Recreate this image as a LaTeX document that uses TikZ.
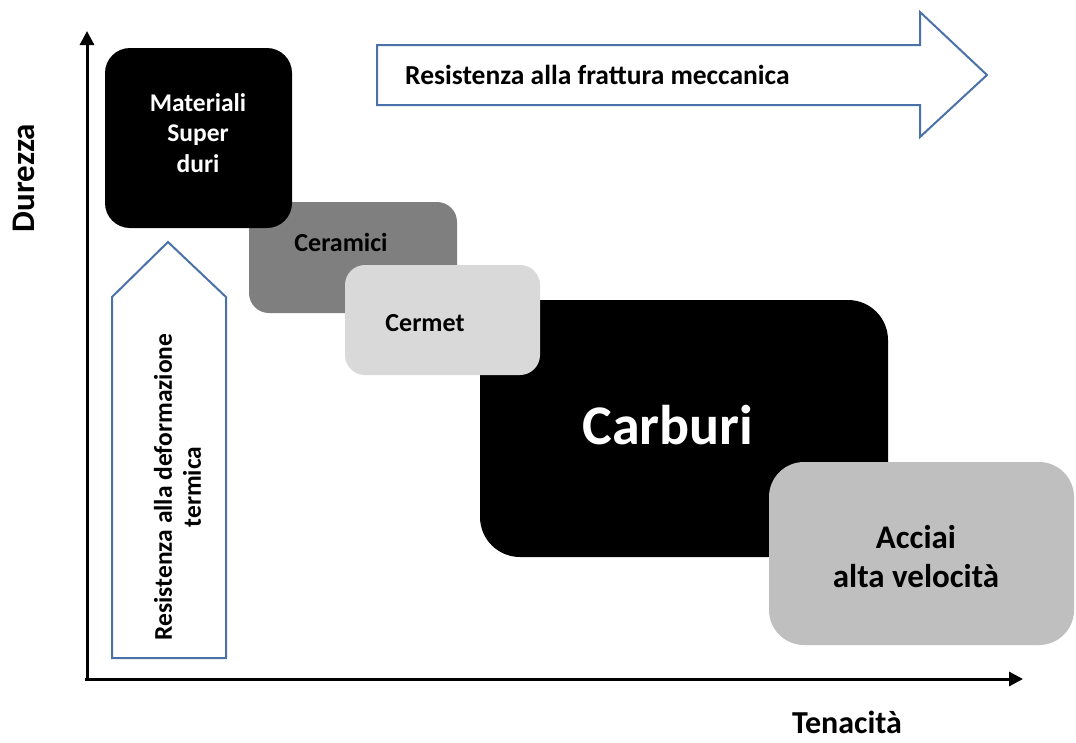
\documentclass[tikz,border=0pt]{standalone}
\usepackage{fontspec}
\setmainfont{Carlito}
\usetikzlibrary{arrows.meta}
\definecolor{arrblue}{HTML}{4A72A8}
\definecolor{ceramgray}{HTML}{7F7F7F}
\definecolor{cermetgray}{HTML}{D9D9D9}
\definecolor{acciaigray}{HTML}{BFBFBF}
\begin{document}
\begin{tikzpicture}[x=1pt,y=-1pt,
  tile/.style={rectangle, rounded corners=#1, inner sep=0pt, draw=none},
  lbl/.style={font=\bfseries, align=center, inner sep=0pt},
  hollow/.style={draw=arrblue, line width=2pt, fill=white, line join=miter},
  axisline/.style={line width=3pt, -{Triangle[length=14pt,width=14pt]}}]
\useasboundingbox[fill=white] (0,0) rectangle (1076,742);

% axes
\coordinate (orig) at (87,679);
\coordinate (ytip) at (87,31);
\coordinate (xtip) at (1023,679);
\draw[axisline] (orig) -- (ytip);
\draw[axisline] (85,679) -- (xtip);

% hollow arrows
\draw[hollow] (377,45) -- (920,45) -- (920,12) -- (987,75) -- (920,137) -- (920,105) -- (377,105) -- cycle;
\draw[hollow] (112,658) -- (112,297) -- (168,242) -- (226,297) -- (226,658) -- cycle;

% boxes
\node[tile=20pt, fill=ceramgray, minimum width=208pt, minimum height=111pt] (ceram) at (353,257.5) {};
\node[tile=25pt, fill=black, minimum width=187pt, minimum height=180pt] (super) at (198.5,138) {};
\node[tile=40pt, fill=black, minimum width=408pt, minimum height=257pt] (carb) at (684,428.5) {};
\node[tile=20pt, fill=cermetgray, minimum width=195pt, minimum height=110pt] (cermet) at (442.5,320) {};
\node[tile=35pt, fill=acciaigray, minimum width=305pt, minimum height=183pt] (acciai) at (921.5,553.5) {};

% labels
\node[lbl, text=white, font=\fontsize{25.5}{30.5}\selectfont\bfseries] (tsuper) at (198,133) {Materiali\\Super\\duri};
\node[lbl, font=\fontsize{26}{30}\selectfont\bfseries] (tceram) at (341,242) {Ceramici};
\node[lbl, font=\fontsize{26}{30}\selectfont\bfseries] (tcermet) at (425,323) {Cermet};
\node[lbl, text=white, font=\fontsize{56}{66}\selectfont\bfseries] (tcarb) at (668,425) {Carburi};
\node[lbl, font=\fontsize{33}{39}\selectfont\bfseries] (tacciai) at (916,557) {Acciai\\alta velocità};
\node[lbl, font=\fontsize{27.5}{31}\selectfont\bfseries, anchor=west] (tfrat) at (405,75) {Resistenza alla frattura meccanica};
\node[lbl, rotate=90, font=\fontsize{25.5}{29}\selectfont\bfseries] (tdef) at (177.5,487) {Resistenza alla deformazione\\termica};
\node[lbl, rotate=90, font=\fontsize{33}{40}\selectfont\bfseries] (tdur) at (24,178) {Durezza};
\node[lbl, font=\fontsize{32}{40}\selectfont\bfseries] (tten) at (847,722) {Tenacità};
\end{tikzpicture}
\end{document}
